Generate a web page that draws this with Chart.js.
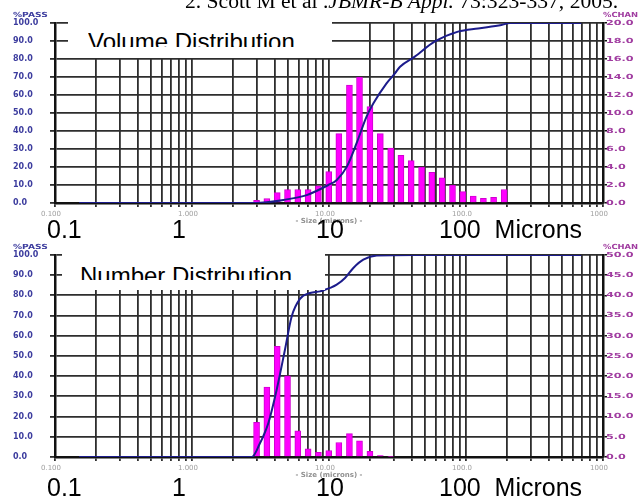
<!DOCTYPE html>
<html>
<head>
<meta charset="utf-8">
<script src="https://cdn.jsdelivr.net/npm/chart.js@4.4.1/dist/chart.umd.min.js"></script>
<style>
  body { margin: 0; width: 638px; height: 498px; overflow: hidden; position: relative; background: #fff; font-family: "Liberation Sans", Arial, sans-serif; }
  canvas { position: absolute; left: 0; }
  .abs { position: absolute; white-space: pre; }
  .cite { left: 185px; top: -9px; font: 21.6px/1 "Liberation Serif", "Times New Roman", serif; color: #000; }
  .axlab { font: bold 7px/1 "DejaVu Sans", sans-serif; transform-origin: 0 0; }
  .pass { color: #3c3c9e; left: 13px; transform: scaleX(1.3); }
  .chan { color: #a03ca0; left: 603px; transform: scaleX(1.2); }
  .box { background: #fff; }
  .clip { position: absolute; overflow: hidden; }
  .boxtext { position: absolute; left: 0; font: 24px/1 "Liberation Sans", Arial, sans-serif; color: #000; white-space: pre; }
  .big { font: 25px/1 "Liberation Sans", Arial, sans-serif; color: #000; }
</style>
</head>
<body>
<canvas id="volChart" width="638" height="250" style="top:0"></canvas>
<canvas id="numChart" width="638" height="268" style="top:230px"></canvas>

<div class="abs cite">2. Scott M et al .<i>JBMR-B Appl.</i> 73:323-337, 2005.</div>

<div class="abs axlab pass" style="top:12px">%PASS</div>
<div class="abs axlab chan" style="top:12px">%CHANGE</div>
<div class="abs axlab pass" style="top:244px">%PASS</div>
<div class="abs axlab chan" style="top:244px">%CHANGE</div>

<div class="abs box" style="left:68px;top:14px;width:264px;height:44px">
  <div class="clip" style="left:20px;top:0;width:240px;height:33px">
    <div class="boxtext" style="top:15.5px">Volume Distribution</div>
  </div>
</div>
<div class="abs box" style="left:62px;top:250px;width:263px;height:40px">
  <div class="clip" style="left:18px;top:0;width:240px;height:30px">
    <div class="boxtext" style="top:14px">Number Distribution</div>
  </div>
</div>

<div class="abs big" style="left:47px;top:217px">0.1</div>
<div class="abs big" style="left:172px;top:217px">1</div>
<div class="abs big" style="left:316px;top:217px">10</div>
<div class="abs big" style="left:439px;top:217px">100  Microns</div>
<div class="abs big" style="left:47px;top:475px">0.1</div>
<div class="abs big" style="left:172px;top:475px">1</div>
<div class="abs big" style="left:316px;top:475px">10</div>
<div class="abs big" style="left:439px;top:475px">100  Microns</div>

<script>
// channel centres (microns), shared by both histograms
const SIZES = [2.96, 3.52, 4.19, 4.98, 5.92, 7.04, 8.37, 9.96, 11.8, 14.1, 16.7, 19.9, 23.7,
               28.2, 33.5, 39.8, 47.4, 56.3, 67.0, 79.7, 94.7, 113, 134, 159, 190];

// volume distribution, %CHANGE per channel
const VOL_CHAN = [0.3, 0.5, 1.15, 1.5, 1.5, 1.5, 1.9, 3.5, 7.7, 13.1, 14.0, 10.7, 7.7,
                  6.1, 5.3, 4.7, 4.0, 3.4, 2.8, 2.0, 1.26, 0.78, 0.52, 0.63, 1.5];
// volume distribution, cumulative %PASS
const VOL_PASS_X = [0.15, 2.9, 3.5, 4.64, 6.87, 9.89, 11.4, 13.5, 15.9, 18.8, 21.1, 26.3, 30.3,
                    33.0, 42.3, 58.9, 87.5, 122.6, 181.5, 208.8, 694];
const VOL_PASS = [0, 0, 0.4, 1.7, 4.4, 10, 12.8, 20.2, 33.2, 48, 55.4, 66.5, 72,
                  75.7, 81.3, 89.6, 95.2, 97, 98.9, 100, 100];

// number distribution, %CHANGE per channel
const NUM_CHAN = [8.6, 17.3, 27.4, 20.1, 6.5, 2.0, 1.15, 1.6, 3.6, 5.8, 4.0, 1.4, 0.35,
                  0.15, 0, 0, 0, 0, 0, 0, 0, 0, 0, 0, 0];
// number distribution, cumulative %PASS
const NUM_PASS_X = [0.15, 2.73, 3.14, 3.31, 3.61, 4.15, 4.77, 5.34, 6.14, 7.27, 8.6, 9.09,
                    10.17, 11.38, 13.09, 15.05, 17.8, 22.3, 42.2, 694];
const NUM_PASS = [0, 0, 6.9, 10.2, 16.8, 33.3, 53.1, 69.6, 78.3, 81.2, 82, 82.5,
                  83.7, 85.3, 88.6, 93.6, 97.7, 99.7, 100, 100];

// log grid and its labels
const X_GRID = [0.1, 0.2, 0.3, 0.4, 0.5, 0.6, 0.7, 0.8, 0.9,
                1, 2, 3, 4, 5, 6, 7, 8, 9,
                10, 20, 30, 40, 50, 60, 70, 80, 90,
                100, 200, 300, 400, 500, 600, 700, 800, 900, 1000];
const X_LABEL_VALUES = [0.1, 1, 10, 100, 1000];
const X_LABEL_TEXT = ['0.100', '1.000', '10.00', '100.0', '1000'];

const GRID = '#2e2e2e';
const AXIS = '#111';
const BAR = '#ff00ff';
const LINE = '#1c1c8c';
const CHAN_COLOR = '#a03ca0';

// right-hand %CHANGE labels are drawn wide, like the instrument printout
const wideRightLabels = {
    id: 'wideRightLabels',
    afterDraw(chart) {
        const s = chart.scales.y2;
        const ctx = chart.ctx;
        ctx.save();
        ctx.fillStyle = CHAN_COLOR;
        ctx.font = 'bold 7px "DejaVu Sans"';
        ctx.textBaseline = 'middle';
        ctx.textAlign = 'left';
        s.ticks.forEach(t => {
            ctx.save();
            ctx.translate(s.left + 3, s.getPixelForValue(t.value));
            ctx.scale(1.6, 1);
            ctx.fillText(t.value.toFixed(1), 0, 0);
            ctx.restore();
        });
        ctx.restore();
    }
};

function makeChart(id, chan, passX, pass, y2Max, y2Step, axisH, titlePad, padTop) {
    const ctx = document.getElementById(id).getContext('2d');
    return new Chart(ctx, {
        type: 'line',
        data: {
            datasets: [
                {
                    type: 'line',
                    data: passX.map((x, i) => ({ x, y: pass[i] })),
                    yAxisID: 'y',
                    borderColor: LINE, borderWidth: 2, pointRadius: 0,
                    cubicInterpolationMode: 'monotone', fill: false, order: 0
                },
                {
                    type: 'bar',
                    data: SIZES.map((x, i) => ({ x, y: chan[i] })),
                    yAxisID: 'y2',
                    backgroundColor: BAR, borderColor: '#d000d0', borderWidth: 1,
                    barThickness: 6, order: 1
                }
            ]
        },
        options: {
            responsive: false, animation: false, devicePixelRatio: 1,
            layout: { padding: { left: 13, right: 0, top: padTop, bottom: 0 } },
            plugins: { legend: { display: false }, tooltip: { enabled: false } },
            scales: {
                x: {
                    type: 'logarithmic', min: 0.1, max: 1000, offset: false,
                    afterBuildTicks: (s) => { s.ticks = X_GRID.map(v => ({ value: v })); },
                    afterFit: (s) => { s.height = axisH; },
                    grid: { color: GRID, lineWidth: 1.8, tickLength: 4, offset: false },
                    border: { display: true, color: AXIS, width: 2.5 },
                    ticks: {
                        autoSkip: false, maxRotation: 0, labelOffset: -4, padding: 3,
                        color: '#a0a0a0', font: { family: 'DejaVu Sans', size: 7 },
                        callback: (v) => {
                            const k = X_LABEL_VALUES.findIndex(t => Math.abs(t - v) < t * 1e-6);
                            return k >= 0 ? X_LABEL_TEXT[k] : '';
                        }
                    },
                    title: {
                        display: true, text: '- Size (microns) -', color: '#909090',
                        font: { family: 'DejaVu Sans', size: 7, weight: 'bold' },
                        padding: { top: 0, bottom: titlePad }
                    }
                },
                y: {
                    position: 'left', min: 0, max: 100,
                    afterFit: (s) => { s.width = 42; },
                    grid: { color: GRID, lineWidth: 1.8, tickLength: 5 },
                    border: { display: true, color: AXIS, width: 2.5 },
                    ticks: {
                        stepSize: 10, crossAlign: 'far', padding: 0,
                        color: '#3c3c9e', font: { family: 'DejaVu Sans', size: 8, weight: 'bold' },
                        callback: (v) => v.toFixed(1)
                    }
                },
                y2: {
                    position: 'right', min: 0, max: y2Max,
                    afterFit: (s) => { s.width = 35; },
                    grid: { drawOnChartArea: false, color: AXIS, lineWidth: 1.5, tickLength: 4 },
                    border: { display: true, color: AXIS, width: 2.5 },
                    ticks: { stepSize: y2Step, display: false }
                }
            }
        },
        plugins: [wideRightLabels]
    });
}

makeChart('volChart', VOL_CHAN, VOL_PASS_X, VOL_PASS, 20, 2, 47, 24.8, 23);
makeChart('numChart', NUM_CHAN, NUM_PASS_X, NUM_PASS, 50, 5, 41, 18.8, 25);
</script>
</body>
</html>
